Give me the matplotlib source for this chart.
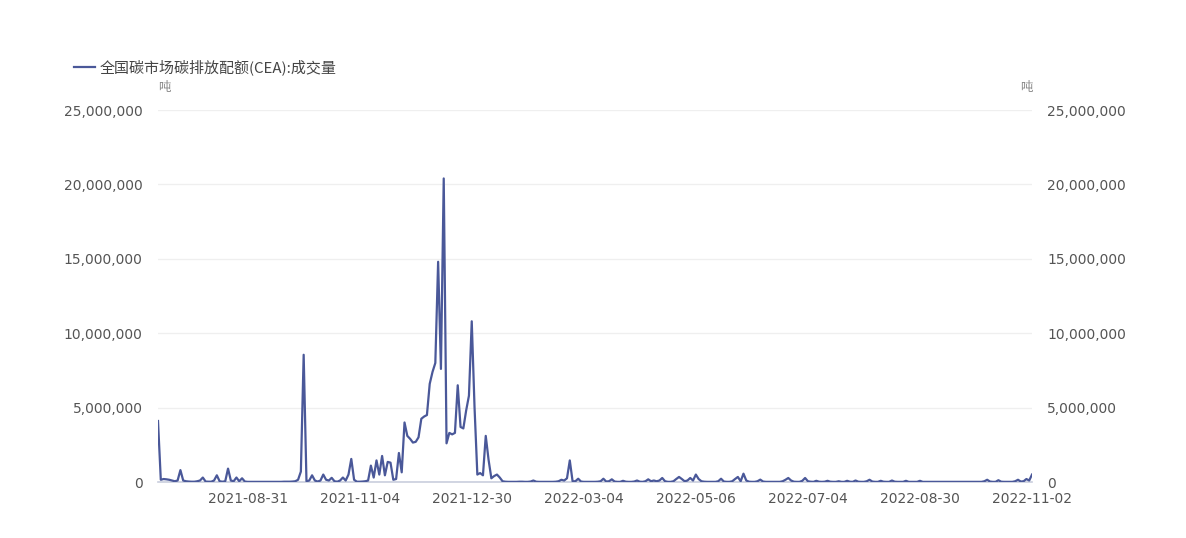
import numpy as np
import matplotlib
matplotlib.use("Agg")
import matplotlib.pyplot as plt
from matplotlib.ticker import FuncFormatter

plt.rcParams['font.family'] = ['DejaVu Sans', 'Noto Sans CJK SC']

series_name = "全国碳市场碳排放配额(CEA):成交量"
unit = "吨"

# daily trading volume, million tonnes (one value per trading day, 2021-07-16 .. 2022-11-02)
volume_m = [
    4.10, 0.15, 0.20, 0.18, 0.15, 0.10, 0.05, 0.10, 0.80, 0.10,
    0.05, 0.03, 0.02, 0.02, 0.05, 0.10, 0.30, 0.03, 0.02, 0.02,
    0.10, 0.45, 0.05, 0.02, 0.05, 0.90, 0.10, 0.05, 0.30, 0.05,
    0.25, 0.03, 0.01, 0.01, 0.01, 0.01, 0.01, 0.01, 0.01, 0.01,
    0.01, 0.01, 0.01, 0.01, 0.01, 0.02, 0.02, 0.02, 0.03, 0.05,
    0.15, 0.70, 8.55, 0.05, 0.10, 0.45, 0.10, 0.03, 0.10, 0.50,
    0.15, 0.10, 0.28, 0.05, 0.02, 0.10, 0.30, 0.10, 0.50, 1.55,
    0.15, 0.02, 0.02, 0.03, 0.05, 0.10, 1.10, 0.30, 1.45, 0.50,
    1.75, 0.45, 1.35, 1.30, 0.15, 0.20, 1.95, 0.65, 4.00, 3.10,
    2.90, 2.65, 2.70, 3.00, 4.25, 4.40, 4.50, 6.60, 7.40, 8.00,
    14.80, 7.60, 20.40, 2.60, 3.30, 3.20, 3.30, 6.50, 3.70, 3.60,
    4.80, 5.80, 10.80, 5.00, 0.50, 0.60, 0.45, 3.10, 1.50, 0.25,
    0.40, 0.50, 0.30, 0.05, 0.02, 0.01, 0.01, 0.01, 0.01, 0.02,
    0.02, 0.01, 0.01, 0.03, 0.10, 0.02, 0.01, 0.01, 0.01, 0.01,
    0.01, 0.01, 0.02, 0.05, 0.15, 0.10, 0.25, 1.45, 0.05, 0.05,
    0.22, 0.03, 0.01, 0.01, 0.01, 0.01, 0.01, 0.02, 0.05, 0.22,
    0.03, 0.05, 0.18, 0.03, 0.01, 0.01, 0.08, 0.02, 0.01, 0.01,
    0.03, 0.10, 0.02, 0.01, 0.05, 0.18, 0.05, 0.10, 0.05, 0.10,
    0.27, 0.05, 0.01, 0.01, 0.05, 0.20, 0.34, 0.20, 0.05, 0.10,
    0.27, 0.10, 0.50, 0.20, 0.05, 0.02, 0.01, 0.01, 0.01, 0.01,
    0.05, 0.22, 0.03, 0.01, 0.01, 0.05, 0.20, 0.34, 0.05, 0.56,
    0.10, 0.02, 0.01, 0.01, 0.05, 0.16, 0.03, 0.01, 0.01, 0.01,
    0.01, 0.01, 0.01, 0.05, 0.15, 0.27, 0.10, 0.02, 0.01, 0.01,
    0.08, 0.27, 0.05, 0.02, 0.01, 0.08, 0.02, 0.01, 0.02, 0.08,
    0.02, 0.01, 0.01, 0.05, 0.01, 0.01, 0.08, 0.02, 0.01, 0.10,
    0.02, 0.01, 0.01, 0.05, 0.15, 0.03, 0.01, 0.01, 0.08, 0.02,
    0.01, 0.01, 0.10, 0.02, 0.01, 0.01, 0.01, 0.08, 0.01, 0.01,
    0.01, 0.01, 0.08, 0.01, 0.01, 0.01, 0.01, 0.01, 0.01, 0.01,
    0.01, 0.01, 0.01, 0.01, 0.01, 0.01, 0.01, 0.01, 0.01, 0.01,
    0.01, 0.01, 0.01, 0.01, 0.01, 0.05, 0.15, 0.03, 0.01, 0.01,
    0.12, 0.02, 0.01, 0.01, 0.01, 0.01, 0.05, 0.15, 0.03, 0.05,
    0.20, 0.10, 0.50,
]

x_tick_labels = ["2021-08-31", "2021-11-04", "2021-12-30", "2022-03-04",
                 "2022-05-06", "2022-07-04", "2022-08-30", "2022-11-02"]
y_ticks = [0, 5_000_000, 10_000_000, 15_000_000, 20_000_000, 25_000_000]

volume = np.array(volume_m) * 1e6
n = len(volume)
idx = np.arange(n)
label_first, label_step = 32, 40
tick_pos = np.arange(label_first, n, label_step)[:len(x_tick_labels)]

W, H = 1186, 538
fig = plt.figure(figsize=(W / 100, H / 100), dpi=100)
fig.patch.set_facecolor('white')
left, right, top, bottom = 158, 1032, 110, 482
ax = fig.add_axes([left / W, 1 - bottom / H, (right - left) / W, (bottom - top) / H])

line_color = '#4a5899'
ax.plot(idx, volume, color=line_color, lw=1.6, solid_joinstyle='round', zorder=3)

ax.set_xlim(0, n - 1)
ax.set_ylim(0, 25_000_000)
ax.set_yticks(y_ticks)
ax.yaxis.set_major_formatter(FuncFormatter(lambda v, p: f"{v:,.0f}"))
ax.set_xticks(tick_pos)
ax.set_xticklabels(x_tick_labels)

for s in ['top', 'right', 'left']:
    ax.spines[s].set_visible(False)
ax.spines['bottom'].set_color('#c9cedd')
ax.spines['bottom'].set_linewidth(1.2)
ax.grid(axis='y', color='#efefef', lw=0.9, zorder=0)
ax.set_axisbelow(True)

ax.tick_params(axis='x', length=0, pad=7, labelsize=10, labelcolor='#555555')
ax.tick_params(axis='y', length=0, pad=11, labelsize=10, labelcolor='#555555',
               labelright=True, labelleft=True)

# units
fig.text(left / W, 1 - 87 / H, unit, fontsize=9, color='#888888',
         family=['Noto Sans CJK SC'], ha='left', va='center')
fig.text(1033 / W, 1 - 87 / H, unit, fontsize=9, color='#888888',
         family=['Noto Sans CJK SC'], ha='right', va='center')

# legend
fig.add_artist(plt.Line2D([74 / W, 95 / W], [1 - 67 / H, 1 - 67 / H],
                          color=line_color, lw=1.6))
fig.text(100 / W, 1 - 67 / H, series_name, fontsize=10.8, color='#444444',
         family=['Noto Sans CJK SC', 'DejaVu Sans'], ha='left', va='center')

fig.savefig('out.png', dpi=100, facecolor='white')
